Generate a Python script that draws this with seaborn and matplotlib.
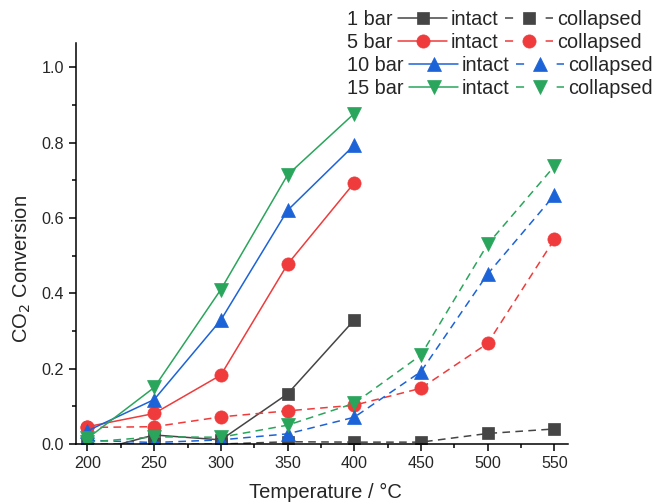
import matplotlib
matplotlib.use("Agg")
import matplotlib.pyplot as plt
from matplotlib.lines import Line2D
from matplotlib.ticker import MultipleLocator, FormatStrFormatter
import seaborn as sns

# Reaction temperatures (°C)
temps_intact = [200, 250, 300, 350, 400]
temps_collapsed = [200, 250, 300, 350, 400, 450, 500, 550]

# CO2 conversion, intact catalyst
intact_1bar = [-0.023, 0.024, 0.011, 0.133, 0.329]
intact_5bar = [0.046, 0.081, 0.183, 0.477, 0.693]
intact_10bar = [0.035, 0.118, 0.329, 0.620, 0.793]
intact_15bar = [0.015, 0.150, 0.410, 0.714, 0.877]

# CO2 conversion, collapsed catalyst
collapsed_1bar = [0.0, 0.0, 0.0, 0.006, 0.005, 0.005, 0.028, 0.040]
collapsed_5bar = [0.044, 0.046, 0.072, 0.088, 0.103, 0.148, 0.267, 0.543]
collapsed_10bar = [0.010, 0.004, 0.011, 0.027, 0.071, 0.192, 0.451, 0.660]
collapsed_15bar = [0.005, 0.019, 0.018, 0.050, 0.108, 0.236, 0.530, 0.737]

pressures = ["1 bar", "5 bar", "10 bar", "15 bar"]
colors = ["#454545", "#ef3b3b", "#1c63d8", "#2aa55c"]
markers = ["s", "o", "^", "v"]
msizes = [8.0, 9.5, 10.0, 10.0]
intact = [intact_1bar, intact_5bar, intact_10bar, intact_15bar]
collapsed = [collapsed_1bar, collapsed_5bar, collapsed_10bar, collapsed_15bar]

sns.set_theme(style="ticks")
plt.rcParams["font.family"] = ["Liberation Sans", "DejaVu Sans"]
plt.rcParams["axes.linewidth"] = 1.1

fig = plt.figure(figsize=(6.57, 5.04), dpi=100)
ax = fig.add_axes([0.1157, 0.119, 0.7489, 0.7956])

dash = (0, (5, 3.5))
legend_dash = (0, (5.3, 21.3))
lw = 1.1
for p, c, m, ms, yi, yc in zip(pressures, colors, markers, msizes, intact, collapsed):
    sns.lineplot(x=temps_intact, y=yi, ax=ax, color=c, marker=m, markersize=ms,
                 markeredgecolor=c, markeredgewidth=0.5, linewidth=lw,
                 linestyle="-", legend=False)
    sns.lineplot(x=temps_collapsed, y=yc, ax=ax, color=c, marker=m, markersize=ms,
                 markeredgecolor=c, markeredgewidth=0.5, linewidth=lw,
                 linestyle=dash, legend=False)

ax.set_xlim(191.4, 560.3)
ax.set_ylim(0, 1.064)
ax.xaxis.set_major_locator(MultipleLocator(50))
ax.xaxis.set_minor_locator(MultipleLocator(25))
ax.yaxis.set_major_locator(MultipleLocator(0.2))
ax.yaxis.set_minor_locator(MultipleLocator(0.1))
ax.yaxis.set_major_formatter(FormatStrFormatter("%.1f"))
ax.tick_params(which="major", length=5, width=1.1, direction="out",
               labelsize=11.6, pad=3.5, color="black")
ax.tick_params(which="minor", length=3, width=1.1, direction="out", color="black")
for s in ("top", "right"):
    ax.spines[s].set_visible(False)
for s in ("left", "bottom"):
    ax.spines[s].set_color("black")

ax.set_xlabel("Temperature / °C", fontsize=14.5, va="top")
ax.set_ylabel("CO$_2$ Conversion", fontsize=14.5)
ax.xaxis.set_label_coords(0.506, -0.097)
ax.yaxis.set_label_coords(-0.087, 0.436)

# One legend row per pressure: "N bar —•— intact - • - collapsed"
row_tops_px = [10, 33, 56, 79]
blank = Line2D([], [], linestyle="none", marker="none")
for p, c, m, ms, top in zip(pressures, colors, markers, msizes, row_tops_px):
    h_solid = Line2D([], [], color=c, marker=m, markersize=ms, markeredgecolor=c,
                     markeredgewidth=0.5, linewidth=lw, linestyle="-")
    h_dash = Line2D([], [], color=c, marker=m, markersize=ms, markeredgecolor=c,
                    markeredgewidth=0.5, linewidth=lw, linestyle=legend_dash)
    fig.legend([h_solid, h_dash, blank], [p, "intact", "collapsed"],
               ncol=3, markerfirst=False, frameon=False, numpoints=1,
               handlelength=2.45, handletextpad=0.3, columnspacing=0.2,
               borderpad=0, borderaxespad=0, fontsize=14.3,
               loc="upper left", bbox_to_anchor=(347 / 657, 1 - top / 504))

fig.savefig("out.png", dpi=100, facecolor="white")
